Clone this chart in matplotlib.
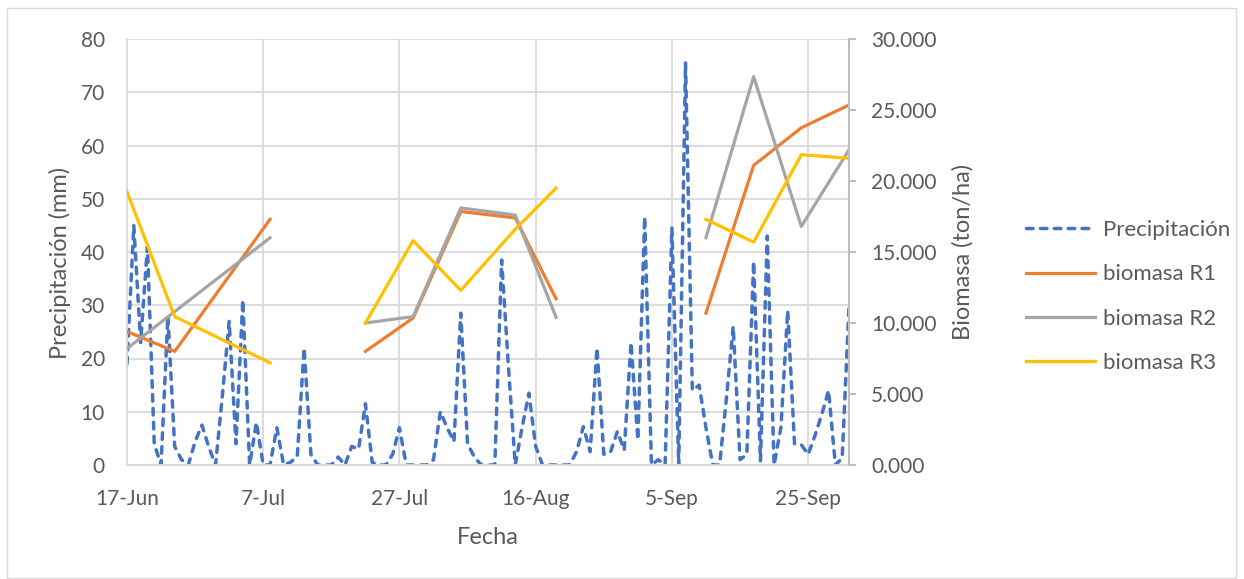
import numpy as np
import pandas as pd
import matplotlib
matplotlib.use("Agg")
import matplotlib.pyplot as plt
import matplotlib.dates as mdates
from matplotlib.ticker import FuncFormatter, MultipleLocator
from matplotlib.patches import Rectangle

plt.rcParams['font.family'] = ['Lato', 'DejaVu Sans']
gris_texto = '#595959'

# precipitacion diaria (mm) desde el 17 de junio
inicio = '2021-06-17'
precipitacion = [
    19, 45, 23, 41, 4, 0, 28, 3.5, 1, 0,
    4.4, 7.5, 3.4, 0, 13, 27, 4, 31, 0, 8,
    0, 0, 7, 0, 0.5, 1.6, 22, 2, 0, 0,
    0, 1.5, 0, 3.5, 3, 11.5, 0.5, 0, 0, 2,
    7, 0, 0, 0, 0, 1, 10, 7, 4.4, 28.5,
    4, 1.5, 0, 0, 0, 38.5, 18.5, 0, 7, 13.5,
    3.5, 0, 0, 0, 0, 0, 2.5, 7.2, 2.5, 22,
    2, 2.5, 6.3, 2.8, 23, 4.7, 46.6, 0, 1, 0,
    44.5, 0, 75.5, 14, 15, 7, 0, 0, 12.5, 26,
    1, 2, 38.2, 0.8, 43, 0, 7, 29, 4, 3.8,
    2, 5.5, 9.5, 14, 0, 1.3, 29.7,
]
fechas_precip = pd.date_range(inicio, periods=len(precipitacion), freq='D')

# muestreos de biomasa (ton/ha); NaN separa las tres campañas
fechas_biomasa = pd.to_datetime([
    '2021-06-17', '2021-06-24', '2021-07-08', '2021-07-15',
    '2021-07-22', '2021-07-29', '2021-08-05', '2021-08-13', '2021-08-19', '2021-08-31',
    '2021-09-10', '2021-09-17', '2021-09-24', '2021-10-01',
])
nan = np.nan
biomasa_r1 = [9.4, 8.0, 17.3, nan, 8.0, 10.35, 17.85, 17.4, 11.7, nan, 10.7, 21.1, 23.75, 25.35]
biomasa_r2 = [8.2, 10.8, 16.0, nan, 10.0, 10.45, 18.1, 17.6, 10.4, nan, 16.0, 27.35, 16.8, 22.2]
biomasa_r3 = [19.25, 10.45, 7.2, nan, 10.0, 15.8, 12.3, 16.6, 19.5, nan, 17.3, 15.7, 21.85, 21.6]

W, H = 1244, 579
fig = plt.figure(figsize=(W / 100, H / 100), dpi=100)
fig.patches.append(Rectangle((7 / W, 1 / H), 1229 / W, 570 / H, transform=fig.transFigure,
                             fill=False, edgecolor='#d9d9d9', linewidth=1))

ax = fig.add_axes([127 / W, 1 - 465 / H, 722 / W, 426 / H])
ax2 = ax.twinx()

lw = 2.3
l0, = ax.plot(fechas_precip, precipitacion, color='#4472C4', lw=2.5,
              linestyle=(0, (1.9, 2.1)), dash_capstyle='round', label='Precipitación')
l1, = ax2.plot(fechas_biomasa, biomasa_r1, color='#ED7D31', lw=lw, label='biomasa R1')
l2, = ax2.plot(fechas_biomasa, biomasa_r2, color='#A5A5A5', lw=lw, label='biomasa R2')
l3, = ax2.plot(fechas_biomasa, biomasa_r3, color='#FFC000', lw=lw, label='biomasa R3')

ax.set_xlim(fechas_precip[0], fechas_precip[-1])
ax.set_ylim(0, 80)
ax2.set_ylim(0, 30)
ax.yaxis.set_major_locator(MultipleLocator(10))
ax2.yaxis.set_major_locator(MultipleLocator(5))
ax2.yaxis.set_major_formatter(FuncFormatter(lambda v, p: f'{v:.3f}'))

ticks_x = pd.date_range(inicio, fechas_precip[-1], freq='20D')
ax.set_xticks(ticks_x)
ax.xaxis.set_major_formatter(mdates.DateFormatter('%-d-%b'))

ax.grid(True, color='#d9d9d9', lw=1.3)
ax.set_axisbelow(True)
for a in (ax, ax2):
    for s in a.spines.values():
        s.set_visible(False)
ax.spines['left'].set_visible(True)
ax.spines['left'].set_color('#d9d9d9')
ax.spines['left'].set_linewidth(1.3)
ax.spines['bottom'].set_visible(True)
ax.spines['bottom'].set_color('#d9d9d9')
ax.spines['bottom'].set_linewidth(1.3)
ax2.spines['right'].set_visible(True)
ax2.spines['right'].set_color('#bfbfbf')
ax2.spines['right'].set_linewidth(1.5)

fs = 15
ax.tick_params(axis='x', length=0, pad=17, labelsize=fs, labelcolor=gris_texto)
ax.tick_params(axis='y', length=0, pad=16, labelsize=fs, labelcolor=gris_texto)
ax2.tick_params(axis='y', length=5, width=1.5, color='#bfbfbf', pad=11,
                labelsize=fs, labelcolor=gris_texto)

ft = 17
fig.text(60 / W, 1 - 263 / H, 'Precipitación (mm)', rotation=90, ha='center', va='center',
         fontsize=ft, color=gris_texto)
fig.text(963 / W, 1 - 252 / H, 'Biomasa (ton/ha)', rotation=90, ha='center', va='center',
         fontsize=ft, color=gris_texto)
fig.text(488 / W, 1 - 537 / H, 'Fecha', ha='center', va='center', fontsize=ft, color=gris_texto)

fig.legend(handles=[l0, l1, l2, l3], loc='center left',
           bbox_to_anchor=(1026 / W, 1 - 296.5 / H), frameon=False, fontsize=16,
           labelcolor=gris_texto, handlelength=3.1, handletextpad=0.35,
           labelspacing=1.1, borderpad=0, borderaxespad=0)

fig.savefig('out.png', dpi=100)
